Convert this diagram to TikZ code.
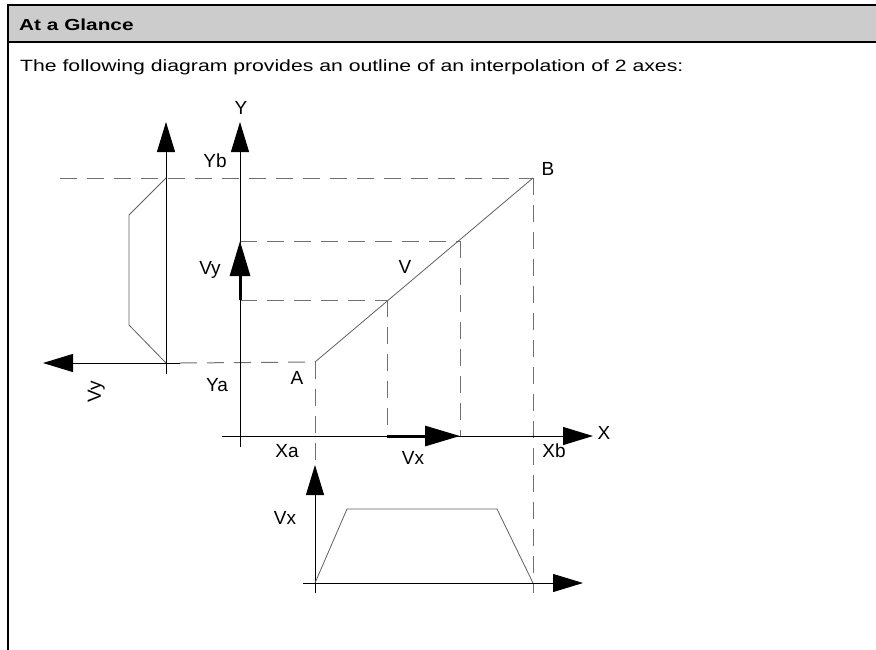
\documentclass[tikz,border=0pt]{standalone}
\usepackage{fontspec}
\setmainfont{Liberation Sans}
\newfontfamily\widefont[FakeStretch=1.3]{Liberation Sans}
\usetikzlibrary{arrows.meta}
\definecolor{hdrgray}{HTML}{CCCCCC}
\definecolor{dashgray}{HTML}{707070}
\definecolor{curvegray}{HTML}{606060}
\tikzset{
  axisline/.style={draw=black, line width=1pt},
  tipA/.style={-{Triangle[length=30pt,width=18pt]}},
  tipB/.style={-{Triangle[length=35pt,width=20pt]}},
  vecline/.style={draw=black, line width=3pt},
  guide/.style={draw=dashgray, line width=1pt, dash pattern=on 17pt off 10pt},
  curve/.style={draw=curvegray, line width=0.8pt},
  lbl/.style={inner sep=0pt, text height=13.6pt, text depth=0pt, font=\fontsize{19}{22}\selectfont},
}
\begin{document}
\begin{tikzpicture}[x=1pt, y=-1pt]
\useasboundingbox (0,0) rectangle (876,649);
% frame
\path[fill=hdrgray, draw=black, line width=1.2pt] (8,5) rectangle (880,42);
\draw[line width=1.2pt] (8,42) -- (8,655);
\node[anchor=base west, inner sep=0pt, font=\widefont\bfseries\fontsize{16}{19}\selectfont] (hdr) at (19,30) {At a Glance};
\node[anchor=base west, inner sep=0pt, font=\widefont\fontsize{16.3}{19}\selectfont] (intro) at (20,71) {The following diagram provides an outline of an interpolation of 2 axes:};

% key points
\coordinate (A) at (315,362);
\coordinate (B) at (533,178);
\coordinate (P1) at (387,300);
\coordinate (P2) at (460,241);
\coordinate (Ybot) at (240,447);
\coordinate (Ytip) at (240,122);
\coordinate (Xleft) at (222,436);
\coordinate (Xtip) at (593,436);
\coordinate (YbL) at (60,178);
\coordinate (YaL) at (180,363);
\coordinate (Vy0) at (240,300);
\coordinate (Vy1) at (240,241);
\coordinate (Vx0) at (387,436);
\coordinate (Vx1) at (460,436);
\coordinate (P1x) at (387,436);
\coordinate (P2x) at (460,436);
\coordinate (Alow) at (315,465);
\coordinate (Blow) at (533,593);
% left chart
\coordinate (Lbot) at (166,374);
\coordinate (Ltip) at (166,122);
\coordinate (Lh0) at (180,363);
\coordinate (Lhtip) at (43,363);
\coordinate (L1) at (166,178);
\coordinate (L2) at (129,215);
\coordinate (L3) at (129,325);
\coordinate (L4) at (166,363);
% lower chart
\coordinate (Dbot) at (315,593);
\coordinate (Dtip) at (315,465);
\coordinate (Dh0) at (303,583);
\coordinate (Dhtip) at (583,583);
\coordinate (D1) at (315,583);
\coordinate (D2) at (347,509);
\coordinate (D3) at (497,509);
\coordinate (D4) at (533,583);

% dashed guides
\draw[guide] (YbL) -- (B);
\draw[guide] (YaL) -- (A);
\draw[guide] (Vy1) -- (P2);
\draw[guide] (Vy0) -- (P1);
\draw[guide] (P1) -- (P1x);
\draw[guide] (P2) -- (P2x);
\draw[guide] (A) -- (Alow);
\draw[guide] (B) -- (Blow);

% path A-B
\draw[curve] (A) -- (B);

% main axes
\draw[axisline, tipA] (Ybot) -- (Ytip);
\draw[axisline, tipA] (Xleft) -- (Xtip);
% velocity vectors
\draw[vecline, tipB] (Vy0) -- (Vy1);
\draw[vecline, tipB] (Vx0) -- (Vx1);

% left chart
\draw[axisline, tipA] (Lbot) -- (Ltip);
\draw[axisline, tipA] (Lh0) -- (Lhtip);
\draw[curve] (L1) -- (L2) -- (L3) -- (L4);

% lower chart
\draw[axisline, tipA] (Dbot) -- (Dtip);
\draw[axisline, tipA] (Dh0) -- (Dhtip);
\draw[curve] (D1) -- (D2) -- (D3) -- (D4);

% labels
\node[lbl] (lY) at (241,107.5) {Y};
\node[lbl] (lYb) at (215,160.5) {Yb};
\node[lbl] (lVy) at (210,268) {Vy};
\node[lbl] (lYa) at (217,385) {Ya};
\node[lbl] (lA) at (297,377.5) {A};
\node[lbl] (lV) at (405,267) {V};
\node[lbl] (lB) at (548,169) {B};
\node[lbl] (lX) at (604,432.5) {X};
\node[lbl] (lXa) at (287,451) {Xa};
\node[lbl] (lVx) at (413,457.5) {Vx};
\node[lbl] (lXb) at (554,451) {Xb};
\node[lbl] (lVx2) at (285,518) {Vx};
\node[lbl, rotate=90] (lVy2) at (94,392) {Vy};
\end{tikzpicture}
\end{document}
